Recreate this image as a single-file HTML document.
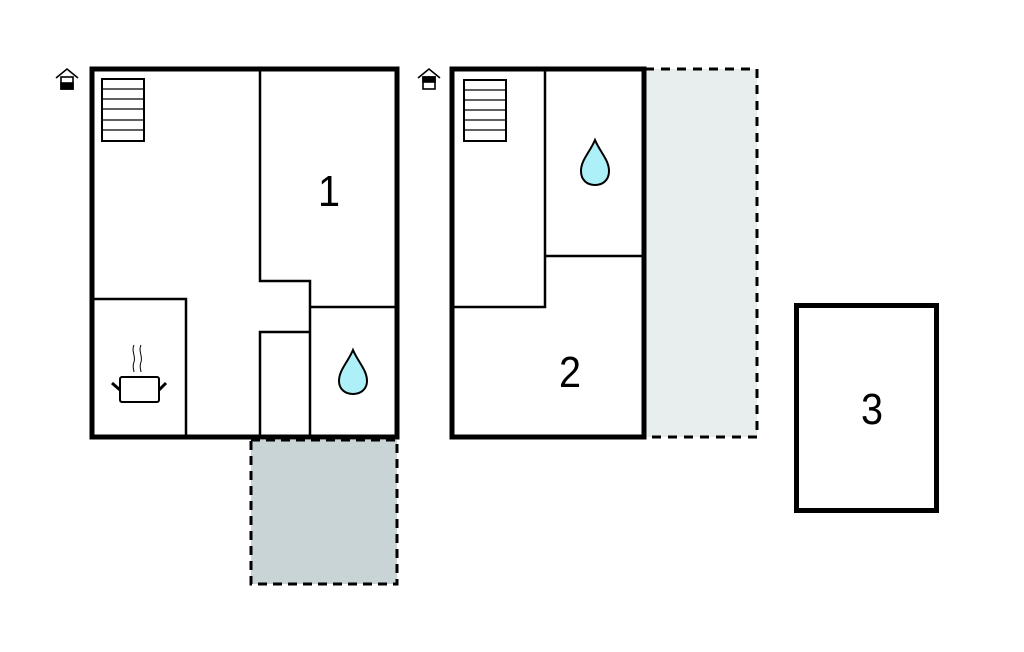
<!DOCTYPE html>
<html><head><meta charset="utf-8"><style>html,body{margin:0;padding:0;background:#fff}svg{display:block}</style></head>
<body>
<svg width="1024" height="652" viewBox="0 0 1024 652" xmlns="http://www.w3.org/2000/svg" font-family="Liberation Sans, sans-serif">
<rect x="251" y="440" width="146" height="144" fill="#c8d4d6" stroke="#000" stroke-width="3" stroke-dasharray="9,6"/>
<rect x="645" y="69" width="112" height="368" fill="#e8eeee" stroke="#000" stroke-width="3" stroke-dasharray="9,7"/>
<g fill="none" stroke="#000" stroke-width="2.5">
<polyline points="260,69 260,281 310,281 310,437"/>
<line x1="310" y1="307" x2="397" y2="307"/>
<polyline points="260,437 260,332 310,332"/>
<polyline points="92,299 186,299 186,437"/>
<rect x="102" y="79" width="42" height="62" stroke-width="2"/>
<line x1="102" y1="89" x2="144" y2="89" stroke-width="1.2"/>
<line x1="102" y1="99" x2="144" y2="99" stroke-width="1.2"/>
<line x1="102" y1="109" x2="144" y2="109" stroke-width="1.2"/>
<line x1="102" y1="120" x2="144" y2="120" stroke-width="1.2"/>
<line x1="102" y1="130" x2="144" y2="130" stroke-width="1.2"/>
</g>
<rect x="92" y="69" width="305" height="368" fill="none" stroke="#000" stroke-width="5"/>
<text x="329" y="206" font-size="44" text-anchor="middle" transform="translate(329,206) scale(0.9,1) translate(-329,-206)">1</text>
<path d="M353,350 C358,362 367,370 367,381 C367,389 361,394 353,394 C345,394 339,389 339,381 C339,370 348,362 353,350 Z" fill="#aef0f8" stroke="#000" stroke-width="2"/>
<g fill="none" stroke="#000">
<rect x="120" y="377" width="39" height="25" rx="2" stroke-width="2"/>
<line x1="112" y1="383" x2="120" y2="390" stroke-width="3"/>
<line x1="159" y1="390" x2="166" y2="383" stroke-width="3"/>
<path d="M134,345 C131,351 136,356 134,362 C132,367 134,370 134,372" stroke-width="1"/>
<path d="M141,345 C138,351 143,356 141,362 C139,367 141,370 141,372" stroke-width="1"/>
</g>
<g stroke="#000" fill="none" stroke-width="1.6">
<polyline points="56,78 67,69 78,78"/>
<rect x="61" y="77" width="12" height="12" fill="#fff"/>
<rect x="61" y="83" width="12" height="6" fill="#000"/>
<polyline points="418,78 429,69 440,78"/>
<rect x="423" y="77" width="12" height="12" fill="#fff"/>
<rect x="423" y="77" width="12" height="5" fill="#000"/>
</g>
<g fill="none" stroke="#000" stroke-width="2.5">
<polyline points="545,69 545,307 452,307"/>
<line x1="545" y1="256" x2="644" y2="256"/>
<rect x="464" y="80" width="42" height="61" stroke-width="2"/>
<line x1="464" y1="90" x2="506" y2="90" stroke-width="1.2"/>
<line x1="464" y1="100" x2="506" y2="100" stroke-width="1.2"/>
<line x1="464" y1="110" x2="506" y2="110" stroke-width="1.2"/>
<line x1="464" y1="120" x2="506" y2="120" stroke-width="1.2"/>
<line x1="464" y1="130" x2="506" y2="130" stroke-width="1.2"/>
</g>
<rect x="452" y="69" width="192" height="368" fill="none" stroke="#000" stroke-width="5"/>
<text x="570" y="387" font-size="44" text-anchor="middle" transform="translate(570,387) scale(0.9,1) translate(-570,-387)">2</text>
<path d="M595,140 C600,152 609,160 609,171 C609,180 603,185 595,185 C587,185 581,180 581,171 C581,160 590,152 595,140 Z" fill="#aef0f8" stroke="#000" stroke-width="2"/>
<rect x="796.5" y="305.5" width="140" height="205" fill="none" stroke="#000" stroke-width="5"/>
<text x="872" y="424" font-size="44" text-anchor="middle" transform="translate(872,424) scale(0.9,1) translate(-872,-424)">3</text>
</svg>
</body></html>
